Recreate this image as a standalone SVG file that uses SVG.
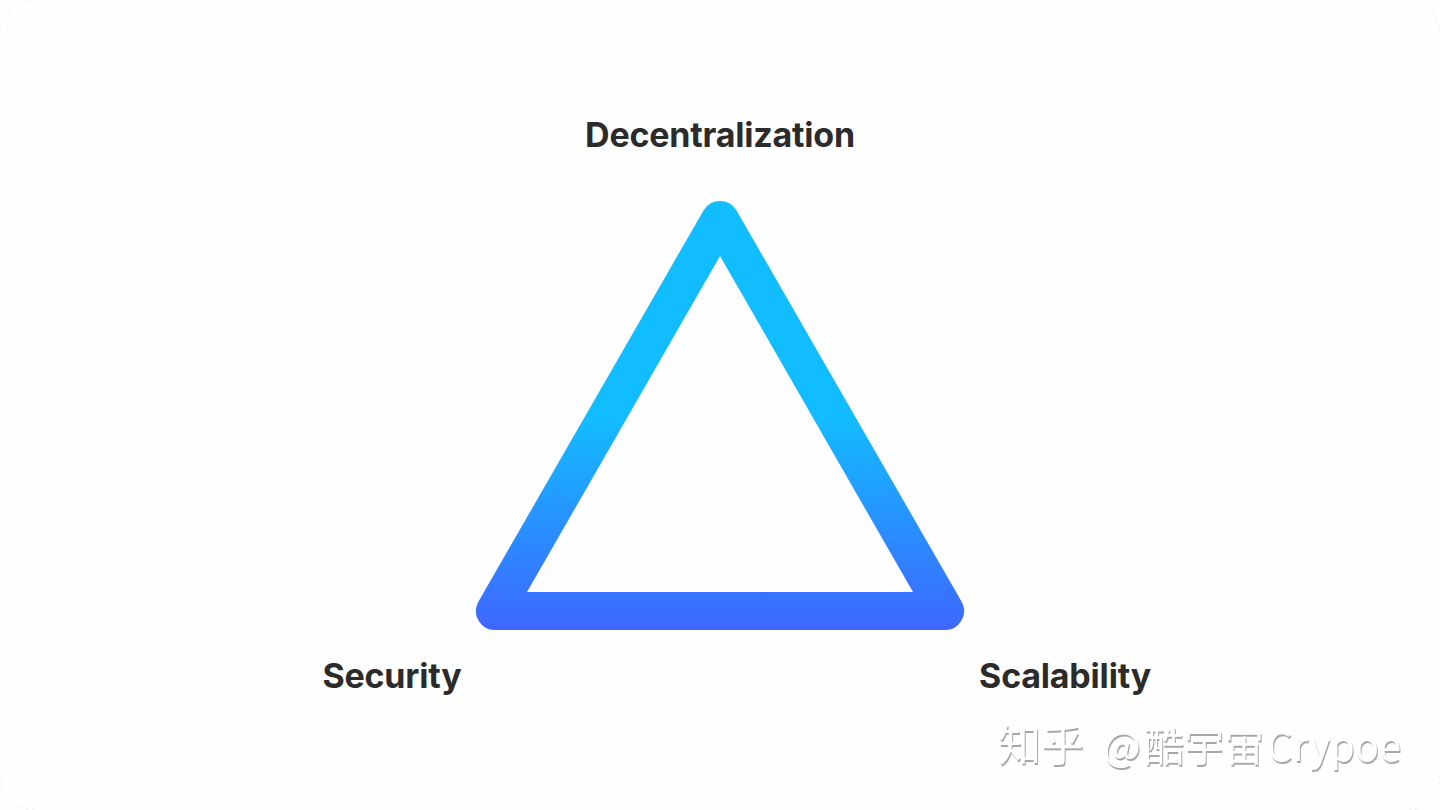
<svg xmlns="http://www.w3.org/2000/svg" width="1440" height="810" viewBox="0 0 1440 810">
<style>
.l{font-family:Inter,"Liberation Sans",sans-serif;font-weight:700;font-size:34px;fill:#2b2b2b;letter-spacing:-.2px}
.w{font-family:"Noto Sans CJK SC","Noto Sans",sans-serif;fill:#fff;filter:drop-shadow(1px 2px 0 #a8a8a8)}
.c{font-size:43px}
.n{font-size:40px}
</style>
<defs><linearGradient id="g" gradientUnits="userSpaceOnUse" x1="0" y1="201" x2="0" y2="630"><stop offset="0" stop-color="#12bdff"/><stop offset=".5" stop-color="#12bdff"/><stop offset="1" stop-color="#3e66ff"/></linearGradient></defs>
<rect width="1440" height="810" fill="#fefefe"/>
<path d="M0 34A34 34 0 0 1 34 0M1406 0A34 34 0 0 1 1440 34M1440 776A34 34 0 0 1 1406 810M34 810A34 34 0 0 1 0 776" fill="none" stroke="#e6e6e6" stroke-width="1" stroke-dasharray="2 4"/>
<g id="triangle"><path fill-rule="evenodd" fill="url(#g)" d="M703.5 210.5A19 19 0 0 1 736.5 210.5L961.5 601.5A19 19 0 0 1 945 630H495A19 19 0 0 1 478.5 601.5ZM720 256L527 592H913Z"/></g>
<g id="decentralization"><text class="l" x="720" y="147" text-anchor="middle">Decentralization</text></g>
<g id="security"><text class="l" x="392" y="688" text-anchor="middle">Security</text></g>
<g id="scalability"><text class="l" x="1065" y="688" text-anchor="middle">Scalability</text></g>
<g id="watermark"><text class="w" y="761"><tspan class="c" x="998">知乎</tspan><tspan class="n" x="1103">@</tspan><tspan class="n" x="1144">酷宇宙</tspan><tspan class="n" x="1267">Crypoe</tspan></text></g>
</svg>
